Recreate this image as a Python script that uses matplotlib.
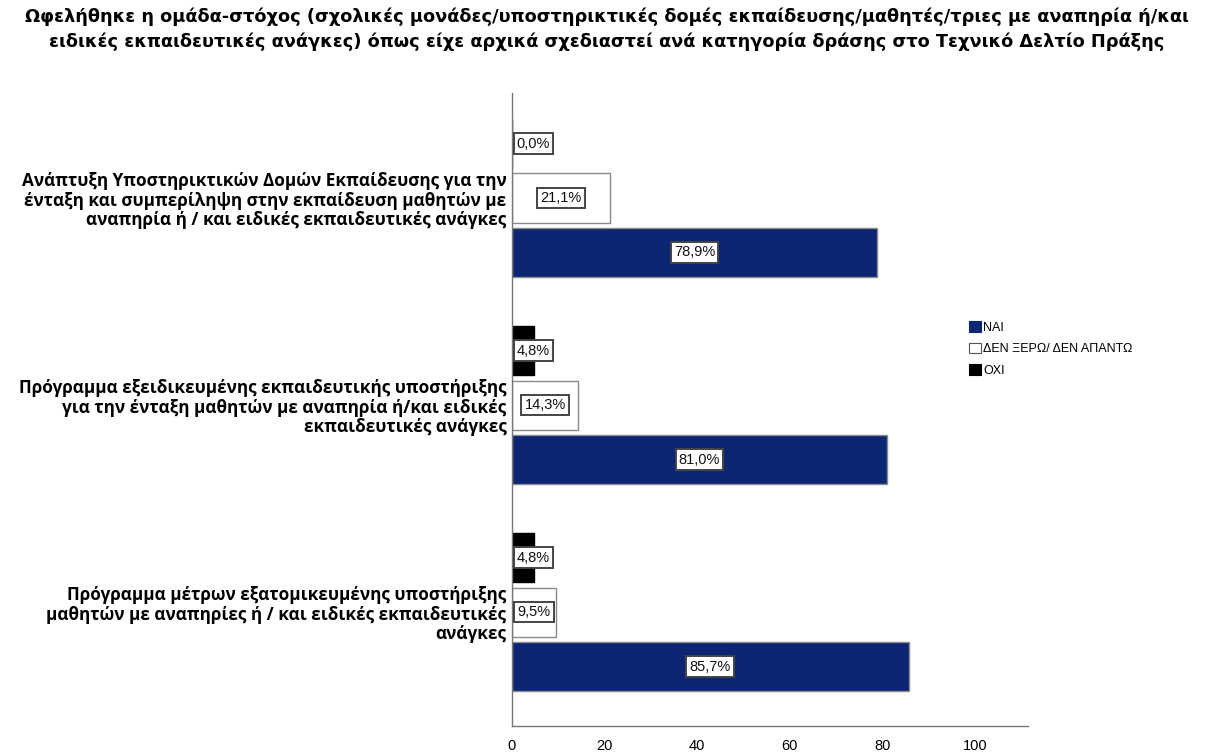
import matplotlib
matplotlib.use("Agg")
import matplotlib.pyplot as plt
from matplotlib.patches import Patch

title = ("Ωφελήθηκε η ομάδα-στόχος (σχολικές μονάδες/υποστηρικτικές δομές εκπαίδευσης/μαθητές/τριες με αναπηρία ή/και\n"
         "ειδικές εκπαιδευτικές ανάγκες) όπως είχε αρχικά σχεδιαστεί ανά κατηγορία δράσης στο Τεχνικό Δελτίο Πράξης")

categories = [
    "Ανάπτυξη Υποστηρικτικών Δομών Εκπαίδευσης για την\nένταξη και συμπερίληψη στην εκπαίδευση μαθητών με\nαναπηρία ή / και ειδικές εκπαιδευτικές ανάγκες",
    "Πρόγραμμα εξειδικευμένης εκπαιδευτικής υποστήριξης\nγια την ένταξη μαθητών με αναπηρία ή/και ειδικές\nεκπαιδευτικές ανάγκες",
    "Πρόγραμμα μέτρων εξατομικευμένης υποστήριξης\nμαθητών με αναπηρίες ή / και ειδικές εκπαιδευτικές\nανάγκες",
]
series_names = ["ΝΑΙ", "ΔΕΝ ΞΕΡΩ/ ΔΕΝ ΑΠΑΝΤΩ", "ΟΧΙ"]
nai = [78.9, 81.0, 85.7]
den_xero = [21.1, 14.3, 9.5]
oxi = [0.0, 4.8, 4.8]
x_ticks = [0, 20, 40, 60, 80, 100]

fig = plt.figure(figsize=(12.14, 7.56), dpi=100)
ax = fig.add_axes([512/1214, 1-726/756, (1028-512)/1214, (726-93)/756])

colors = ["#0c2673", "#ffffff", "#000000"]
edges = ["#8a8a8a", "#8a8a8a", "#000000"]
offsets = [0.263, 0.0, -0.263]
bar_h = 0.237
data = [nai, den_xero, oxi]

for s, vals in enumerate(data):
    for i, v in enumerate(vals):
        y = i + offsets[s]
        ax.barh(y, v, height=bar_h, color=colors[s], edgecolor=edges[s], linewidth=1.0)
        xc = max(v / 2.0, 4.65)
        ax.text(xc, y, f"{v:.1f}%".replace(".", ","), ha="center", va="center",
                fontsize=10.5, family="Liberation Sans", color="#111111",
                bbox=dict(boxstyle="square,pad=0.22", fc="white", ec="#444444", lw=1.4))

ax.set_xlim(0, 111.5)
ax.set_ylim(2.55, -0.507)
ax.set_yticks(range(len(categories)))
ax.set_yticklabels(categories, fontsize=12.3, fontweight="bold", family="Open Sans",
                   linespacing=1.1)
ax.set_xticks(x_ticks)
ax.set_xticklabels([str(t) for t in x_ticks], fontsize=10.5, family="Liberation Sans")
ax.tick_params(axis="y", length=0, pad=4)
ax.tick_params(axis="x", length=0, pad=9)
for sp in ["top", "right"]:
    ax.spines[sp].set_visible(False)
for sp in ["left", "bottom"]:
    ax.spines[sp].set_color("#777777")
    ax.spines[sp].set_linewidth(1.0)

handles = [Patch(facecolor=colors[k], edgecolor=("#555555" if k == 1 else colors[k]), lw=0.8)
           for k in range(3)]
fig.legend(handles, series_names, loc="upper left", bbox_to_anchor=(958/1214, 1-310/756),
           frameon=False, prop={"family": "Liberation Sans", "size": 9},
           handlelength=0.95, handleheight=0.95, handletextpad=0.15, labelspacing=0.7)

fig.text(0.5, 0.99, title, ha="center", va="top", fontsize=12.8, fontweight="bold",
         family="DejaVu Sans", linespacing=1.45)

fig.savefig("out.png", dpi=100)
